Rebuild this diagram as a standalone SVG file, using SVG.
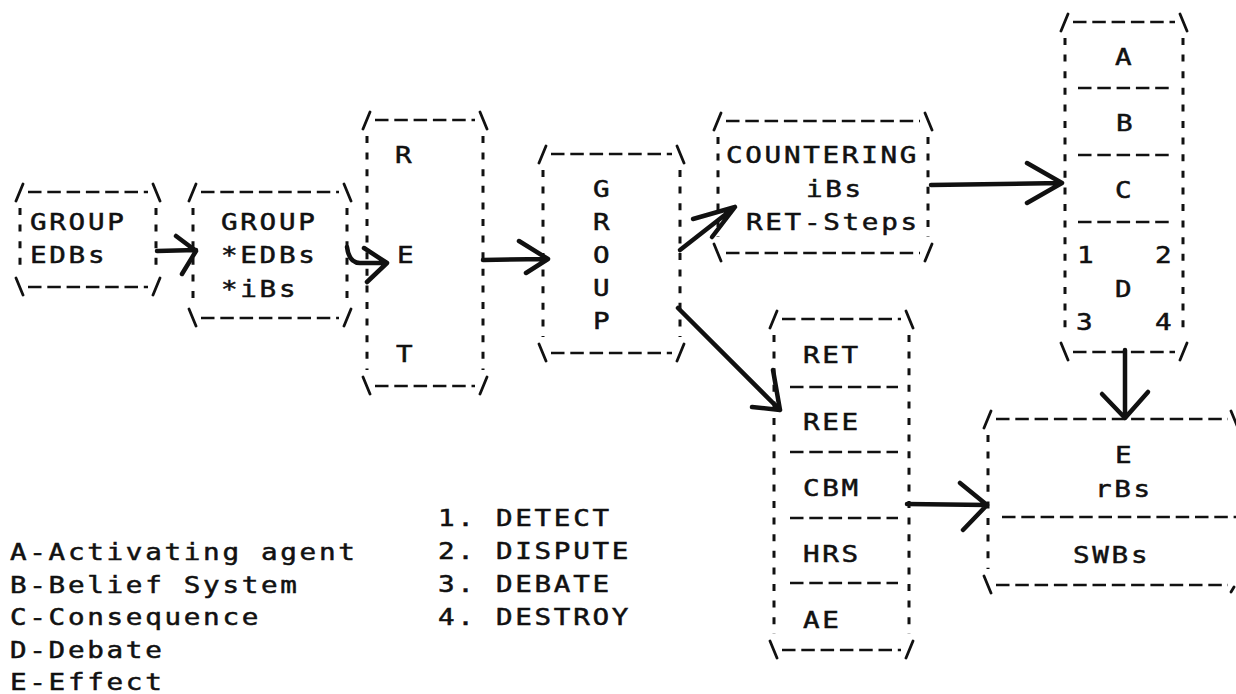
<svg xmlns="http://www.w3.org/2000/svg" width="1236" height="694" viewBox="0 0 1236 694">
<style>
.t{font-family:"DejaVu Sans Mono","Liberation Mono",monospace;font-size:23px;letter-spacing:2.25px;fill:#111;stroke:#111;stroke-width:0.5}
.c{stroke:#111;stroke-width:2.8;fill:none;stroke-linecap:round}
.h{stroke:#111;stroke-width:2.6;fill:none;stroke-dasharray:13.5 5.8}
.v{stroke:#111;stroke-width:3;fill:none;stroke-dasharray:7 9.6}
.a{stroke:#111;stroke-width:4.5;fill:none;stroke-linecap:round;stroke-linejoin:round}
</style>
<rect width="1236" height="694" fill="#fff"/>

<g id="group-edbs">
<path class="c" d="M16,201 L23,184 M153,184 L160,201 M16,278 L23,295 M153,295 L160,278"/>
<path class="h" d="M28,192 H148 M28,287 H148"/>
<path class="v" d="M20,208 V271 M156,208 V271"/>
<text class="t" transform="translate(30,230) scale(1.2,1)">GROUP</text>
<text class="t" transform="translate(30,263) scale(1.2,1)">EDBs</text>
</g>

<g id="group-edbs-ibs">
<path class="c" d="M189,201 L196,184 M344,184 L351,201 M189,309 L196,326 M344,326 L351,309"/>
<path class="h" d="M201,192 H339 M201,318 H339"/>
<path class="v" d="M193,208 V302 M347,208 V302"/>
<text class="t" transform="translate(221,230) scale(1.2,1)">GROUP</text>
<text class="t" transform="translate(221,263) scale(1.2,1)">*EDBs</text>
<text class="t" transform="translate(221,297) scale(1.2,1)">*iBs</text>
</g>

<g id="ret">
<path class="c" d="M363,129 L370,112 M480,112 L487,129 M363,377 L370,394 M480,394 L487,377"/>
<path class="h" d="M375,120 H475 M375,386 H475"/>
<path class="v" d="M367,136 V370 M483,136 V370"/>
<text class="t" transform="translate(395,163) scale(1.2,1)">R</text>
<text class="t" transform="translate(397,263) scale(1.2,1)">E</text>
<text class="t" transform="translate(396,362) scale(1.2,1)">T</text>
</g>

<g id="group-vertical">
<path class="c" d="M539,163 L546,146 M677,146 L684,163 M539,344 L546,361 M677,361 L684,344"/>
<path class="h" d="M551,154 H672 M551,353 H672"/>
<path class="v" d="M543,170 V337 M680,170 V337"/>
<text class="t" transform="translate(593,197) scale(1.2,1)">G</text>
<text class="t" transform="translate(593,230) scale(1.2,1)">R</text>
<text class="t" transform="translate(593,263) scale(1.2,1)">O</text>
<text class="t" transform="translate(593,296) scale(1.2,1)">U</text>
<text class="t" transform="translate(593,329) scale(1.2,1)">P</text>
</g>

<g id="countering">
<path class="c" d="M714,130 L721,113 M925,113 L932,130 M714,244 L721,261 M925,261 L932,244"/>
<path class="h" d="M726,121 H920 M726,253 H920"/>
<path class="v" d="M718,137 V237 M928,137 V237"/>
<text class="t" transform="translate(726,163) scale(1.2,1)">COUNTERING</text>
<text class="t" transform="translate(806,197) scale(1.2,1)">iBs</text>
<text class="t" transform="translate(746,230) scale(1.2,1)">RET-Steps</text>
</g>

<g id="abcd">
<path class="c" d="M1061,31 L1068,14 M1180,14 L1187,31 M1061,343 L1068,360 M1180,360 L1187,343"/>
<path class="h" d="M1073,22 H1175 M1073,352 H1175 M1078,88 H1172 M1078,155 H1172 M1078,222 H1172"/>
<path class="v" d="M1065,38 V336 M1183,38 V336"/>
<text class="t" transform="translate(1115,65) scale(1.2,1)">A</text>
<text class="t" transform="translate(1116,131) scale(1.2,1)">B</text>
<text class="t" transform="translate(1115,198) scale(1.2,1)">C</text>
<text class="t" transform="translate(1077,263) scale(1.2,1)">1</text>
<text class="t" transform="translate(1155,263) scale(1.2,1)">2</text>
<text class="t" transform="translate(1115,297) scale(1.2,1)">D</text>
<text class="t" transform="translate(1076,330) scale(1.2,1)">3</text>
<text class="t" transform="translate(1155,330) scale(1.2,1)">4</text>
</g>

<g id="ret-list">
<path class="c" d="M770,328 L777,311 M906,311 L913,328 M770,641 L777,658 M906,658 L913,641"/>
<path class="h" d="M782,319 H901 M782,650 H901 M790,387 H898 M790,452 H898 M790,518 H898 M790,583 H898"/>
<path class="v" d="M774,335 V634 M909,335 V634"/>
<text class="t" transform="translate(803,363) scale(1.2,1)">RET</text>
<text class="t" transform="translate(803,430) scale(1.2,1)">REE</text>
<text class="t" transform="translate(803,496) scale(1.2,1)">CBM</text>
<text class="t" transform="translate(803,562) scale(1.2,1)">HRS</text>
<text class="t" transform="translate(803,628) scale(1.2,1)">AE</text>
</g>

<g id="effect">
<path class="c" d="M984,428 L991,411 M1231,411 L1238,428 M984,576 L991,593 M1231,592 L1234,587"/>
<path class="h" d="M996,419 H1228 M996,585 H1228 M1002,517 H1236"/>
<path class="v" d="M988,435 V569"/>
<text class="t" transform="translate(1115,463) scale(1.2,1)">E</text>
<text class="t" transform="translate(1095,497) scale(1.2,1)">rBs</text>
<text class="t" transform="translate(1073,563) scale(1.2,1)">SWBs</text>
</g>

<g id="legend">
<text class="t" transform="translate(10,560) scale(1.2,1)">A-Activating agent</text>
<text class="t" transform="translate(10,593) scale(1.2,1)">B-Belief System</text>
<text class="t" transform="translate(10,625) scale(1.2,1)">C-Consequence</text>
<text class="t" transform="translate(10,658) scale(1.2,1)">D-Debate</text>
<text class="t" transform="translate(10,690) scale(1.2,1)">E-Effect</text>
<text class="t" transform="translate(438,526) scale(1.2,1)">1. DETECT</text>
<text class="t" transform="translate(438,559) scale(1.2,1)">2. DISPUTE</text>
<text class="t" transform="translate(438,592) scale(1.2,1)">3. DEBATE</text>
<text class="t" transform="translate(438,625) scale(1.2,1)">4. DESTROY</text>
</g>

<g id="connectors">
<path class="a" d="M157,251 L196,250 M176,236 L196,251 L182,274"/>
<path class="a" d="M347,247 Q349,263 360,263 L386,263 M364,248 L387,263 L367,282"/>
<path class="a" d="M483,260 L548,259 M519,241 L548,259 L526,273"/>
<path class="a" d="M680,250 L735,207 M693,219 L735,207 L712,237"/>
<path class="a" d="M931,185 L1062,183 M1027,163 L1062,183 L1027,203"/>
<path class="a" d="M678,308 L780,410 M773,370 L780,410 L752,407"/>
<path class="a" d="M907,504 L987,505 M960,483 L987,505 L963,530"/>
<path class="a" d="M1125,350 L1125,418 M1102,394 L1125,418 L1148,392"/>
</g>
</svg>
